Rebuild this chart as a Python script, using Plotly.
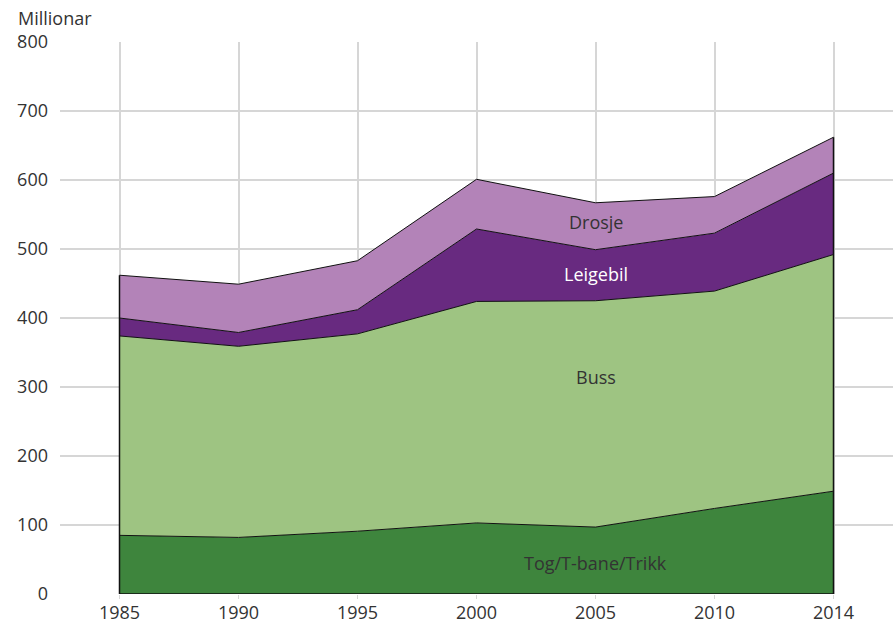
import plotly.graph_objects as go

years = ["1985", "1990", "1995", "2000", "2005", "2010", "2014"]
tog = [85, 82, 91, 103, 97, 124, 149]
buss = [289, 277, 286, 321, 328, 315, 343]
leigebil = [26, 20, 35, 105, 74, 84, 118]
drosje = [62, 70, 71, 72, 68, 53, 52]

series_names = ["Tog/T-bane/Trikk", "Buss", "Leigebil", "Drosje"]
series_vals = [tog, buss, leigebil, drosje]
colors = ["#3e853d", "#9ec482", "#682a80", "#b383b8"]
label_colors = ["#333333", "#333333", "#ffffff", "#333333"]
label_pos = [45, 314, 464, 539]
label_year = "2005"

font_family = "Open Sans, Noto Sans, sans-serif"
fig = go.Figure()

cum = [0] * len(years)
for name, vals, col in zip(series_names, series_vals, colors):
    cum = [c + v for c, v in zip(cum, vals)]
    fig.add_trace(go.Scatter(
        x=years, y=cum, name=name, mode="lines",
        line=dict(color="#111111", width=1),
        fill="tozeroy" if name == series_names[0] else "tonexty",
        fillcolor=col, hoverinfo="x+y+name", showlegend=False,
    ))

totals = cum
fig.add_trace(go.Scatter(
    x=[years[-1], years[-1], years[0], years[0]],
    y=[totals[-1], 0, 0, totals[0]],
    mode="lines", line=dict(color="#111111", width=1.5),
    hoverinfo="skip", showlegend=False,
))

for name, yv, lc in zip(series_names, label_pos, label_colors):
    fig.add_annotation(x=years.index(label_year), y=yv, text=name, showarrow=False,
                       font=dict(size=18, color=lc, family=font_family))

fig.add_annotation(xref="paper", yref="paper", x=-0.0528, y=1.0435,
                   xanchor="left", yanchor="middle", text="Millionar",
                   showarrow=False,
                   font=dict(size=18, color="#333333", family=font_family))

fig.update_layout(
    width=895, height=623,
    margin=dict(l=60, r=2, t=42, b=29, autoexpand=False),
    paper_bgcolor="white", plot_bgcolor="white",
    font=dict(family=font_family, size=18, color="#333333"),
    showlegend=False,
)
fig.update_xaxes(type="category", range=[-0.5, 6.5], showgrid=True,
                 gridcolor="#d6d6d6", gridwidth=1.5, ticks="outside",
                 ticklen=4, tickcolor="#d6d6d6", showline=False, zeroline=False,
                 tickfont=dict(size=18, color="#333333"), automargin=False,
                 ticklabelstandoff=-2)
fig.update_yaxes(range=[0, 800], dtick=100, showgrid=True, gridcolor="#d6d6d6",
                 gridwidth=1.5, zeroline=False, showline=False,
                 tickfont=dict(size=18, color="#333333"), ticks="",
                 ticklabelstandoff=11, automargin=False)

fig.write_html("out.html", config={"displayModeBar": False},
               post_script="document.body.style.margin='0';document.body.style.overflow='hidden';")
